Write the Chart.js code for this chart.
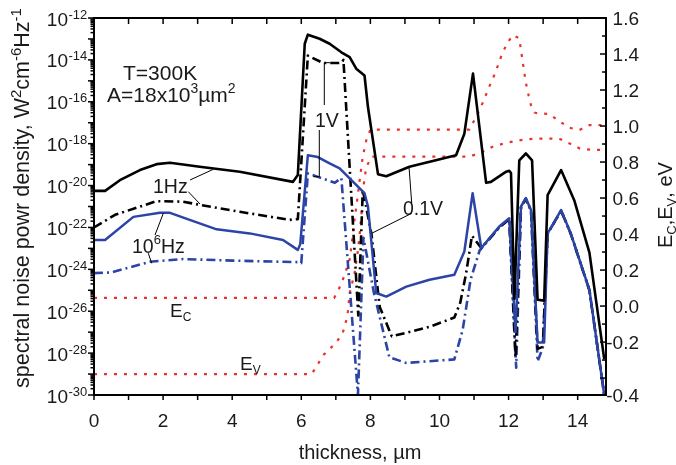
<!DOCTYPE html>
<html>
<head>
<meta charset="utf-8">
<script src="https://cdn.jsdelivr.net/npm/chart.js@4.4.1/dist/chart.umd.min.js"></script>
<style>
  html, body { margin: 0; padding: 0; background: #fff; }
  #wrap { width: 676px; height: 465px; }
</style>
</head>
<body>
<div id="wrap"><canvas id="chart"></canvas></div>
<script>
const FONT = '"Liberation Sans", Arial, Helvetica, sans-serif'

// 1 Hz, 1 V (black solid)
const xBlack1V = [0, 0.32, 0.75, 1.33, 1.81, 2.2, 3.06, 4.22, 5.76, 5.9, 6.1, 6.19, 6.53, 6.82, 7.16, 7.4, 7.59, 7.83, 7.93, 8.22, 8.46, 9.13, 10.48, 10.72, 10.97, 11.35, 11.49, 11.93, 12.02, 12.07, 12.17, 12.31, 12.5, 12.68, 12.84, 13.03, 13.13, 13.52, 13.9, 14.34, 14.77]
const sBlack1V = [5.6e-21, 5.6e-21, 1.8e-20, 5.5e-20, 1.05e-19, 1.23e-19, 7.9e-20, 4.6e-20, 1.5e-20, 3.2e-20, 5.9e-14, 1.6e-13, 1.02e-13, 5.9e-14, 2.3e-14, 1.35e-14, 3.8e-15, 1.8e-15, 5.6e-17, 3.5e-20, 2.8e-20, 7.9e-20, 2.8e-19, 3.0e-18, 2.2e-15, 1.35e-20, 1.5e-20, 4.6e-20, 5.1e-20, 4.0e-20, 4.0e-26, 1.6e-19, 3.4e-19, 1.6e-19, 3.5e-26, 3.2e-26, 3.5e-21, 5.5e-20, 2.0e-21, 6.3e-24, 5.0e-29]

// 1 Hz, 0.1 V (black dash-dot)
const xBlack01V = [0, 0.61, 1.81, 2.58, 3.06, 4.22, 5.66, 5.9, 6.19, 6.63, 7.16, 7.22, 7.65, 7.78, 8.03, 8.27, 8.62, 9.71, 10.43, 10.6, 10.77, 10.94, 11.21, 11.73, 12.02, 12.2, 12.36, 12.5, 12.65, 12.84, 12.99, 13.13, 13.52, 13.8, 14.34, 14.77]
const sBlack01V = [1.0e-22, 4.0e-22, 1.8e-21, 1.7e-21, 1.2e-21, 5.6e-22, 2.3e-22, 2.5e-22, 1.6e-14, 7.1e-15, 7.1e-15, 1.0e-14, 6.3e-27, 6.3e-21, 5.0e-23, 1.6e-26, 6.3e-28, 1.8e-27, 5.0e-27, 2.5e-26, 6.3e-25, 4.0e-23, 1.05e-23, 1.0e-22, 2.5e-22, 6.3e-29, 1.0e-21, 2.2e-21, 6.3e-22, 1.6e-28, 2.0e-28, 5.0e-23, 6.3e-22, 5.0e-23, 1.0e-25, 1.0e-30]

// 10^6 Hz, 1 V (blue solid)
const xBlue1V = [0, 0.32, 1.14, 1.91, 2.2, 2.77, 3.55, 4.51, 5.47, 5.9, 5.97, 6.19, 6.48, 6.82, 7.11, 7.45, 7.69, 7.83, 7.93, 8.17, 8.46, 9.04, 9.71, 10.43, 10.72, 10.96, 11.21, 11.73, 12.02, 12.2, 12.36, 12.5, 12.65, 12.84, 13.03, 13.13, 13.52, 13.8, 14.34, 14.77]
const sBlue1V = [2.5e-23, 2.5e-23, 3.2e-22, 5.0e-22, 5.0e-22, 2.3e-22, 8.1e-23, 5.2e-23, 2.5e-23, 8.5e-24, 1.6e-23, 2.8e-19, 2.3e-19, 1.15e-19, 6.6e-20, 1.8e-20, 7.4e-21, 4.3e-21, 1.0e-21, 7.4e-26, 5.0e-26, 1.5e-25, 3.2e-25, 5.5e-25, 7.1e-24, 4.3e-21, 1.05e-23, 1.1e-22, 2.75e-22, 1.0e-27, 1.0e-21, 2.5e-21, 6.8e-22, 3.2e-28, 3.2e-28, 5.2e-23, 6.8e-22, 5.2e-23, 1.05e-25, 1.0e-30]

// 10^6 Hz, 0.1 V (blue dash-dot)
const xBlue01V = [0, 0.5, 1.62, 2.58, 4.03, 5.95, 6.0, 6.19, 6.48, 6.97, 7.16, 7.64, 7.8, 8.1, 8.55, 9.04, 10.43, 10.67, 10.9, 11.16, 11.73, 12.02, 12.22, 12.36, 12.5, 12.65, 12.84, 12.99, 13.13, 13.52, 13.8, 14.34, 14.77]
const sBlue01V = [6.6e-25, 7.1e-25, 2.3e-24, 3.1e-24, 2.6e-24, 2.2e-24, 2.0e-24, 3.8e-20, 2.6e-20, 1.35e-20, 2.3e-20, 1.0e-30, 3.2e-23, 7.9e-26, 6.3e-29, 3.4e-29, 5.0e-29, 1.26e-27, 3.2e-25, 7.9e-24, 1.0e-22, 2.5e-22, 2.0e-29, 1.0e-21, 2.4e-21, 6.3e-22, 4.0e-29, 1.8e-28, 5.0e-23, 6.3e-22, 5.0e-23, 1.0e-25, 1.0e-30]

// band edges, eV (right axis)
const xEc = [0, 6.95, 7.1, 7.25, 7.4, 7.49, 7.54, 7.6, 7.69, 7.78, 7.88, 8.0, 10.87, 11.16, 11.3, 11.42, 11.56, 11.69, 11.81, 11.96, 12.12, 12.31, 12.36, 12.43, 12.5, 12.58, 12.65, 12.75, 12.84, 13.18, 13.42, 13.76, 14.05, 14.34, 14.82]
const eEc = [0.045, 0.045, 0.1, 0.17, 0.26, 0.39, 0.48, 0.56, 0.7, 0.83, 0.92, 0.98, 0.98, 1.09, 1.15, 1.21, 1.27, 1.335, 1.4, 1.46, 1.505, 1.487, 1.42, 1.33, 1.24, 1.17, 1.115, 1.075, 1.07, 1.067, 1.033, 0.99, 0.978, 1.005, 1.005]
const xEv = [0, 6.3, 6.65, 7.0, 7.2, 7.3, 7.35, 7.4, 7.54, 7.64, 7.69, 7.74, 7.78, 7.88, 8.03, 10.87, 11.25, 11.54, 11.88, 12.2, 12.5, 12.84, 13.47, 13.8, 14.05, 14.43, 14.82]
const eEv = [-0.378, -0.378, -0.27, -0.205, -0.15, -0.08, -0.03, 0.07, 0.18, 0.31, 0.4, 0.5, 0.64, 0.77, 0.83, 0.83, 0.857, 0.885, 0.904, 0.917, 0.926, 0.93, 0.93, 0.9, 0.876, 0.867, 0.867]

// ticks
const xTicks = [0, 2, 4, 6, 8, 10, 12, 14]
const leftExps = [-12, -14, -16, -18, -20, -22, -24, -26, -28, -30]
const rightTicks = [1.6, 1.4, 1.2, 1.0, 0.8, 0.6, 0.4, 0.2, 0.0, -0.2]
const rightBottomLabel = '-0.4'

const X_MAX = 14.82
const E_MIN = -0.494

function pts(xs, ys) {
  return xs.map((x, i) => ({ x: x, y: ys[i] }))
}

const BLUE = '#2b44a6'
const RED = '#e8322b'
const DASHDOT = [9, 4, 2, 4]

function txt(ctx, s, x, y, size, align) {
  ctx.font = size + 'px ' + FONT
  ctx.textAlign = align || 'left'
  ctx.fillText(s, x, y)
  return ctx.measureText(s).width
}

// draw a run of pieces: [text, size, dy]
function run(ctx, pieces, x, y) {
  let cx = x
  for (const p of pieces) {
    ctx.font = p[1] + 'px ' + FONT
    ctx.textAlign = 'left'
    ctx.fillText(p[0], cx, y + (p[2] || 0))
    cx += ctx.measureText(p[0]).width
  }
  return cx - x
}

function line(ctx, a) {
  ctx.beginPath()
  ctx.moveTo(a[0], a[1])
  for (let i = 2; i < a.length; i += 2) ctx.lineTo(a[i], a[i + 1])
  ctx.stroke()
}

const decor = {
  id: 'decor',
  afterDraw(chart) {
    const ctx = chart.ctx
    const a = chart.chartArea
    const sx = chart.scales.x, sy = chart.scales.y, se = chart.scales.yE
    ctx.save()
    ctx.fillStyle = '#1a1a1a'
    ctx.strokeStyle = '#000'
    ctx.textBaseline = 'alphabetic'

    // frame
    ctx.lineWidth = 2
    ctx.strokeRect(a.left, a.top, a.right - a.left, a.bottom - a.top)

    // x ticks: bottom outward, top inward
    ctx.lineWidth = 1.5
    for (let v = 0; v <= 14; v++) {
      const px = sx.getPixelForValue(v)
      line(ctx, [px, a.bottom, px, a.bottom + 5])
      line(ctx, [px, a.top, px, a.top + 6])
    }
    // left log ticks, outward
    for (let d = -30; d <= -12; d++) {
      const py = sy.getPixelForValue(Math.pow(10, d))
      line(ctx, [a.left - 6, py, a.left, py])
      if (d < -12) {
        for (let m = 2; m <= 9; m++) {
          const q = sy.getPixelForValue(m * Math.pow(10, d))
          line(ctx, [a.left - 3.5, q, a.left, q])
        }
      }
    }
    // right ticks, inward
    for (let k = -4; k <= 16; k++) {
      const py = se.getPixelForValue(k / 10)
      const len = k % 2 === 0 ? 6 : 4
      line(ctx, [a.right - len, py, a.right, py])
    }

    // tick labels
    for (const v of xTicks) {
      txt(ctx, String(v), sx.getPixelForValue(v), 427, 19, 'center')
    }
    for (const e of leftExps) {
      const py = sy.getPixelForValue(Math.pow(10, e))
      txt(ctx, '10', 68, py + 7.5, 19, 'right')
      txt(ctx, String(e), 68.5, py + 0.5, 13, 'left')
    }
    for (const v of rightTicks) {
      txt(ctx, v.toFixed(1), 639, se.getPixelForValue(v) + 7, 19, 'right')
    }
    txt(ctx, rightBottomLabel, 639, a.bottom + 7, 19, 'right')

    // axis titles
    txt(ctx, 'thickness, \u00b5m', 360, 459, 20, 'center')

    ctx.save()
    ctx.translate(29, 388)
    ctx.rotate(-Math.PI / 2)
    run(ctx, [['spectral noise powr density, W', 21.5], ['2', 15, -8.5], ['cm', 21.5], ['-6', 15, -8.5], ['Hz', 21.5], ['-1', 15, -8.5]], 0, 0)
    ctx.restore()

    ctx.save()
    ctx.translate(672, 248)
    ctx.rotate(-Math.PI / 2)
    run(ctx, [['E', 20], ['C', 13, 4], [',E', 20], ['V', 13, 4], [', eV', 20]], 0, 0)
    ctx.restore()

    // annotations
    txt(ctx, 'T=300K', 123, 80, 21)
    run(ctx, [['A=18x10', 21], ['3', 14, -9], ['\u00b5m', 21], ['2', 14, -9]], 107, 102)
    txt(ctx, '1V', 315, 127, 19.5)
    txt(ctx, '1Hz', 153, 193, 19.5)
    run(ctx, [['10', 19.5], ['6', 13, -9], ['Hz', 19.5]], 132, 253)
    txt(ctx, '0.1V', 403, 215, 19.5)
    run(ctx, [['E', 19], ['C', 12, 4]], 170, 317)
    run(ctx, [['E', 19], ['V', 12, 4]], 240, 370)

    // leader lines
    ctx.lineWidth = 1
    line(ctx, [190, 180, 213.3, 169.3])
    line(ctx, [188.3, 191.7, 200, 204])
    line(ctx, [155, 235, 163.3, 213.3])
    line(ctx, [148.3, 253.3, 151.7, 263.3])
    line(ctx, [330, 62.7, 324.3, 62.7, 324.3, 105])
    line(ctx, [319.3, 130, 319.3, 176.7, 313.3, 176.7])
    line(ctx, [409, 166.7, 411.7, 203])
    line(ctx, [411.7, 213.3, 371.7, 233.3])

    ctx.restore()
  }
}

const fixed = (w, h) => s => {
  if (w !== null) s.width = w
  if (h !== null) s.height = h
}

const hidden = {
  grid: { display: false, drawTicks: false },
  border: { display: false },
  ticks: { display: false }
}

new Chart('chart', {
  type: 'line',
  data: {
    datasets: [
      { data: pts(xBlack1V, sBlack1V), yAxisID: 'y', borderColor: '#000', borderWidth: 2.6 },
      { data: pts(xBlue1V, sBlue1V), yAxisID: 'y', borderColor: BLUE, borderWidth: 2.5 },
      { data: pts(xBlack01V, sBlack01V), yAxisID: 'y', borderColor: '#000', borderWidth: 2.6, borderDash: DASHDOT },
      { data: pts(xBlue01V, sBlue01V), yAxisID: 'y', borderColor: BLUE, borderWidth: 2.6, borderDash: DASHDOT },
      { data: pts(xEc, eEc), yAxisID: 'yE', borderColor: RED, borderWidth: 2.2, borderDash: [3, 7] },
      { data: pts(xEv, eEv), yAxisID: 'yE', borderColor: RED, borderWidth: 2.2, borderDash: [3, 7] }
    ]
  },
  options: {
    responsive: true,
    maintainAspectRatio: false,
    animation: false,
    layout: { padding: { top: 18, left: 0, right: 0, bottom: 0 } },
    elements: {
      point: { radius: 0 },
      line: { tension: 0, fill: false, borderCapStyle: 'butt', borderJoinStyle: 'round' }
    },
    plugins: { legend: { display: false }, tooltip: { enabled: false } },
    scales: {
      x: { type: 'linear', position: 'bottom', min: 0, max: X_MAX, ...hidden, afterFit: fixed(null, 70) },
      y: { type: 'logarithmic', position: 'left', min: 1e-30, max: 1e-12, ...hidden, afterFit: fixed(94, null) },
      yE: { type: 'linear', position: 'right', min: E_MIN, max: 1.6, ...hidden, afterFit: fixed(70, null) }
    }
  },
  plugins: [decor]
})
</script>
</body>
</html>
